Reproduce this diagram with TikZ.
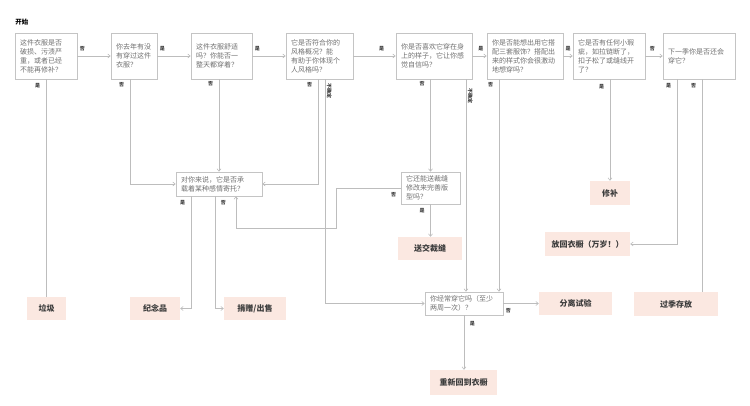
\documentclass[tikz,border=0pt]{standalone}
\usepackage{fontspec}
\setmainfont{Noto Sans CJK SC}
\usetikzlibrary{arrows.meta}
\definecolor{qline}{HTML}{C4C4C4}
\definecolor{qtext}{HTML}{707070}
\definecolor{rfill}{HTML}{FBE8E1}
\definecolor{rtext}{HTML}{3C3C3C}
\definecolor{eline}{HTML}{BDBDBD}

\begin{document}
\begin{tikzpicture}[x=1pt, y=-1pt,
  q/.style = {draw=qline, line width=0.6pt, fill=white, text=qtext, font=\fontsize{7}{9}\selectfont, align=left, inner xsep=5pt, inner ysep=0pt},
  r/.style = {fill=rfill, text=rtext, font=\fontsize{8}{9}\selectfont\bfseries, inner sep=0pt, minimum height=23pt},
  lbl/.style = {font=\fontsize{5}{5}\selectfont\bfseries, text=rtext, inner sep=1.5pt},
  ln/.style = {draw=eline, line width=0.6pt},
  >={Straight Barb[length=2.5pt,width=4pt]}]
        \useasboundingbox (0,0) rectangle (750,406);
        \node[font=\fontsize{6.5}{7}\selectfont\bfseries, text=black] (0) at (22,22) {开始};
        \node[q, minimum height=46pt, text width=52pt] (1) at (46,56) {这件衣服是否\\破损、污渍严\\重，或者已经\\不能再修补？};
        \node[q, minimum height=46pt, text width=36pt] (2) at (134,56) {你去年有没\\有穿过这件\\衣服？};
        \node[q, minimum height=46pt, text width=51pt] (3) at (221.5,56) {这件衣服舒适\\吗？你能否一\\整天都穿着？};
        \node[q, minimum height=46pt, text width=57pt] (4) at (319.5,56) {它是否符合你的\\风格概况？能\\有助于你体现个\\人风格吗？};
        \node[q, minimum height=46pt, text width=66pt] (5) at (434,56) {你是否喜欢它穿在身\\上的样子，它让你感\\觉自信吗？};
        \node[q, minimum height=46pt, text width=66pt] (6) at (525,56) {你是否能想出用它搭\\配三套服饰？搭配出\\来的样式你会很激动\\地想穿吗？};
        \node[q, minimum height=46pt, text width=62pt] (7) at (609,56) {它是否有任何小瑕\\疵，如拉链断了，\\扣子松了或缝线开\\了？};
        \node[q, minimum height=46pt, text width=62pt] (8) at (699,56) {下一季你是否还会\\穿它？};
        \node[q, minimum height=24pt, text width=76pt] (9) at (219,184) {对你来说，它是否承\\载着某种感情寄托？};
        \node[q, minimum height=32pt, text width=49pt] (10) at (430.5,188) {它还能送裁缝\\修改来完善版\\型吗？};
        \node[q, minimum height=23pt, text width=68pt] (11) at (464,303.5) {你经常穿它吗（至少\\两周一次）？};
        \node[r, minimum width=39pt] (12) at (46.5,308.5) {垃圾};
        \node[r, minimum width=50pt] (13) at (155,308.5) {纪念品};
        \node[r, minimum width=62pt] (14) at (255,308.5) {捐赠/出售};
        \node[r, minimum width=64pt] (15) at (430,248.5) {送交裁缝};
        \node[r, minimum width=40pt, minimum height=24pt] (16) at (610,193) {修补};
        \node[r, minimum width=85pt, minimum height=24pt] (17) at (587.5,244) {放回衣橱（万岁！）};
        \node[r, minimum width=84pt, minimum height=24pt] (18) at (676,304) {过季存放};
        \node[r, minimum width=73pt] (19) at (575.5,303.5) {分离试验};
        \node[r, minimum width=67pt, minimum height=25pt] (20) at (463.5,382.5) {重新回到衣橱};
        \coordinate (bend) at (336,228);
        \draw[ln, ->] (1) -- node[lbl, above=3pt, pos=0.15] {否} (2);
        \draw[ln, ->] (2) -- node[lbl, above=3pt, pos=0.15] {是} (3);
        \draw[ln, ->] (3) -- node[lbl, above=3pt, pos=0.15] {是} (4);
        \draw[ln, ->] (4) -- node[lbl, above=3pt, pos=0.67] {是} (5);
        \draw[ln, ->] (5) -- node[lbl, above=3pt, pos=0.6] {是} (6);
        \draw[ln, ->] (6) -- node[lbl, above=3pt, pos=0.5] {是} (7);
        \draw[ln, ->] (7) -- node[lbl, above=3pt, pos=0.4] {否} (8);
        \draw[ln] (1.south) -- node[lbl, left=4pt, pos=0.03] {是} (1.south |- 12.north);
        \draw[ln, ->] ([xshift=-4pt]2.south) |- node[lbl, left=4pt, pos=0.025] {否} (9.west);
        \draw[ln, ->] (3.south -| 9.north) -- node[lbl, left=4pt, pos=0.05] {否} (9.north);
        \draw[ln, ->] ([xshift=-1.5pt]4.south) |- node[lbl, left=4pt, pos=0.025] {否} (9.east);
        \draw[ln, ->] ([xshift=5.5pt]4.south) |- node[lbl, rotate=-90, anchor=south, pos=0.025] {不确定} (11.west);
        \draw[ln, ->] (5.south -| 10.north) -- node[lbl, left=4pt, pos=0.05] {否} (10.north);
        \draw[ln, ->] ([xshift=32pt]5.south) -- node[lbl, rotate=-90, anchor=south, pos=0.08] {不确定} ([xshift=32pt]5.south |- 11.north);
        \draw[ln, ->] ([xshift=-26pt]6.south) -- node[lbl, left=4pt, pos=0.025] {否} ([xshift=-26pt]6.south |- 11.north);
        \draw[ln, ->] (7.south -| 16.north) -- node[lbl, left=4pt, pos=0.07] {是} (16.north);
        \draw[ln, ->] ([xshift=-22pt]8.south) |- node[lbl, left=4pt, pos=0.02] {是} (17.east);
        \draw[ln] ([xshift=3pt]8.south) -- node[lbl, left=4pt, pos=0.03] {否} ([xshift=3pt]8.south |- 18.north);
        \draw[ln, ->] ([xshift=-28pt]9.south) |- node[lbl, left=4pt, pos=0.03] {是} (13.east);
        \draw[ln, ->] ([xshift=-4pt]9.south) |- node[lbl, right=4pt, pos=0.03] {否} (14.west);
        \draw[ln, ->] (10.west) -| node[lbl, below=3pt, pos=0.055] {否} (bend) -| ([xshift=17pt]9.south);
        \draw[ln, ->] (10.south) -- node[lbl, left=4pt, pos=0.2] {是} (10.south |- 15.north);
        \draw[ln, ->] (11) -- node[lbl, below=3pt, pos=0.14] {否} (19);
        \draw[ln, ->] (11.south) -- node[lbl, right=4pt, pos=0.15] {是} (11.south |- 20.north);
\end{tikzpicture}
\end{document}
